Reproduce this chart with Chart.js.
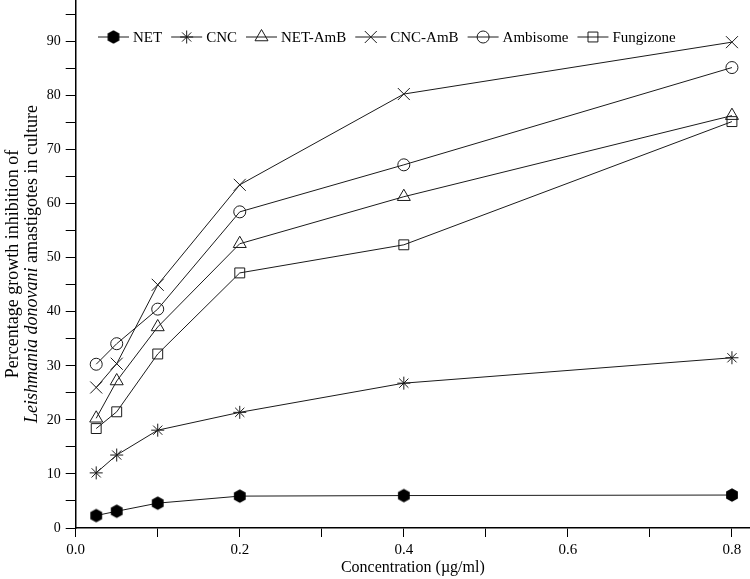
<!DOCTYPE html>
<html>
<head>
<meta charset="utf-8">
<script src="https://cdn.jsdelivr.net/npm/chart.js@4.4.0/dist/chart.umd.min.js"></script>
<style>
  html, body { margin: 0; padding: 0; background: #fff; }
  #wrap { width: 750px; height: 579px; }
</style>
</head>
<body>
<div id="wrap"><canvas id="c" width="750" height="579"></canvas></div>
<script>
// ---- data ----
const concentrations = [0.025, 0.05, 0.1, 0.2, 0.4, 0.8];
const seriesNames = ["NET", "CNC", "NET-AmB", "CNC-AmB", "Ambisome", "Fungizone"];
const netValues       = [2.3, 3.1, 4.6, 5.9, 6.0, 6.1];
const cncValues       = [10.2, 13.5, 18.1, 21.4, 26.8, 31.5];
const netAmbValues    = [20.3, 27.2, 37.2, 52.6, 61.3, 76.3];
const cncAmbValues    = [26.0, 30.4, 45.0, 63.5, 80.3, 89.9];
const ambisomeValues  = [30.3, 34.1, 40.5, 58.5, 67.2, 85.2];
const fungizoneValues = [18.4, 21.5, 32.2, 47.2, 52.4, 75.2];
const xTickLabels = ["0.0", "0.2", "0.4", "0.6", "0.8"];
const yTickLabels = ["0", "10", "20", "30", "40", "50", "60", "70", "80", "90"];
const xTitle = "Concentration (\u00b5g/ml)";
const yTitleLine1 = "Percentage growth inhibition of";
const yTitleLine2Italic = "Leishmania donovani";
const yTitleLine2Rest = " amastigotes in culture";

const INK = '#1a1a1a';
const SERIF = '"Liberation Serif", "Times New Roman", serif';

// filled hexagon marker
function makeHex(r) {
  const s = Math.ceil(r * 2 + 2);
  const cv = document.createElement('canvas');
  cv.width = s; cv.height = s;
  const g = cv.getContext('2d');
  g.fillStyle = '#000';
  g.beginPath();
  for (let i = 0; i < 6; i++) {
    const a = Math.PI / 2 + i * Math.PI / 3;
    const px = s / 2 + r * Math.cos(a), py = s / 2 - r * Math.sin(a);
    if (i === 0) g.moveTo(px, py); else g.lineTo(px, py);
  }
  g.closePath();
  g.fill();
  return cv;
}
const hexImg = makeHex(6.8);

const styles = [
  { pointStyle: hexImg, radius: 7 },
  { pointStyle: 'star', radius: 6.5 },
  { pointStyle: 'triangle', radius: 7.5 },
  { pointStyle: 'crossRot', radius: 8.5 },
  { pointStyle: 'circle', radius: 6 },
  { pointStyle: 'rect', radius: 7 }
];
const allValues = [netValues, cncValues, netAmbValues, cncAmbValues, ambisomeValues, fungizoneValues];

const datasets = seriesNames.map((name, i) => ({
  label: name,
  data: concentrations.map((x, j) => ({ x: x, y: allValues[i][j] })),
  borderColor: INK,
  borderWidth: 1,
  pointStyle: styles[i].pointStyle,
  pointRadius: styles[i].radius,
  pointHoverRadius: styles[i].radius,
  pointBorderColor: INK,
  pointBackgroundColor: 'rgba(0,0,0,0)',
  pointBorderWidth: 1,
  tension: 0,
  fill: false,
  clip: false
}));

const legendPlugin = {
  id: 'inlineLegend',
  afterDatasetsDraw(chart) {
    const ctx = chart.ctx;
    ctx.save();
    ctx.font = '15px ' + SERIF;
    ctx.textBaseline = 'middle';
    ctx.textAlign = 'left';
    let x = 98;
    const y = 37;
    chart.data.datasets.forEach((ds, i) => {
      ctx.strokeStyle = INK;
      ctx.lineWidth = 1;
      ctx.beginPath();
      ctx.moveTo(x, y); ctx.lineTo(x + 31, y);
      ctx.stroke();
      ctx.fillStyle = 'rgba(0,0,0,0)';
      Chart.helpers.drawPoint(ctx, { pointStyle: styles[i].pointStyle, radius: styles[i].radius, rotation: 0, borderWidth: 1 }, x + 15.5, y);
      ctx.fillStyle = '#000';
      ctx.fillText(ds.label, x + 35, y + 1);
      x += 35 + ctx.measureText(ds.label).width + 9;
    });
    ctx.restore();
  }
};

const yTitlePlugin = {
  id: 'yTitle',
  afterDraw(chart) {
    const ctx = chart.ctx;
    const cy = (chart.chartArea.top + chart.chartArea.bottom) / 2;
    ctx.save();
    ctx.fillStyle = '#000';
    ctx.textBaseline = 'middle';
    ctx.translate(13, cy);
    ctx.rotate(-Math.PI / 2);
    ctx.font = '18px ' + SERIF;
    ctx.textAlign = 'center';
    ctx.fillText(yTitleLine1, 0, 0);
    ctx.textAlign = 'left';
    ctx.font = 'italic 18px ' + SERIF;
    const w1 = ctx.measureText(yTitleLine2Italic).width;
    ctx.font = '18px ' + SERIF;
    const w2 = ctx.measureText(yTitleLine2Rest).width;
    const start = -(w1 + w2) / 2;
    ctx.font = 'italic 18px ' + SERIF;
    ctx.fillText(yTitleLine2Italic, start, 19);
    ctx.font = '18px ' + SERIF;
    ctx.fillText(yTitleLine2Rest, start + w1, 19);
    ctx.restore();
  }
};

new Chart(document.getElementById('c'), {
  type: 'line',
  data: { datasets: datasets },
  options: {
    responsive: false,
    animation: false,
    layout: { padding: 0, autoPadding: false },
    plugins: { legend: { display: false }, tooltip: { enabled: false }, title: { display: false } },
    scales: {
      x: {
        type: 'linear',
        min: 0, max: 0.822,
        afterFit(s) { s.height = 51; s.paddingRight = 0; s.paddingLeft = 0; },
        border: { display: true, color: '#000', width: 1.5 },
        grid: { display: true, drawOnChartArea: false, drawTicks: true, tickLength: 9, color: '#000', lineWidth: 1 },
        ticks: {
          stepSize: 0.1, includeBounds: false, autoSkip: false, maxRotation: 0,
          color: '#000', font: { family: SERIF, size: 15 }, padding: 4,
          callback(v) {
            const k = Math.round(v * 10);
            return (k % 2 === 0) ? xTickLabels[k / 2] : '';
          }
        },
        title: { display: true, text: xTitle, color: '#000', font: { family: SERIF, size: 16 }, padding: { top: 0, bottom: 2 } }
      },
      y: {
        type: 'linear',
        min: 0, max: 97.7,
        afterFit(s) { s.width = 75.7; s.paddingTop = 0; s.paddingBottom = 0; },
        border: { display: true, color: '#000', width: 1.5 },
        grid: { display: true, drawOnChartArea: false, drawTicks: true, tickLength: 10, color: '#000', lineWidth: 1 },
        ticks: {
          stepSize: 5, includeBounds: false, autoSkip: false,
          color: '#000', font: { family: SERIF, size: 14 }, padding: 5,
          callback(v) {
            const k = Math.round(v);
            return (k % 10 === 0) ? yTickLabels[k / 10] : '';
          }
        }
      }
    }
  },
  plugins: [legendPlugin, yTitlePlugin]
});
</script>
</body>
</html>
